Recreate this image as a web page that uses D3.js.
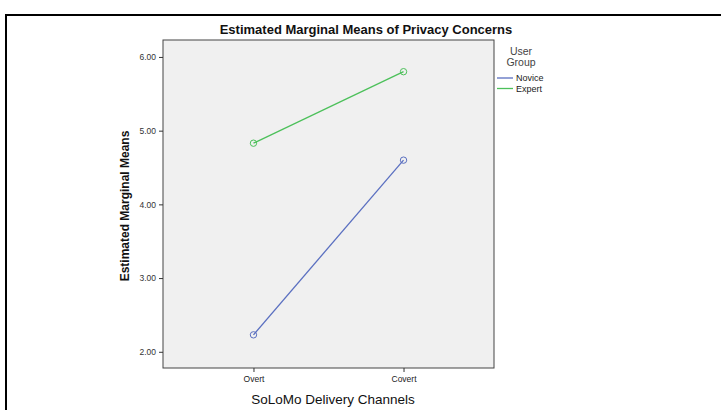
<!DOCTYPE html>
<html>
<head>
<meta charset="utf-8">
<script src="https://cdn.jsdelivr.net/npm/d3@7"></script>
<style>
  body { margin: 0; background: #fff; }
  svg { display: block; font-family: Arial, "Liberation Sans", sans-serif; }
</style>
</head>
<body>
<svg id="chart" width="721" height="410"></svg>
<script>
const channels = ['Overt', 'Covert'];
const groups = ['Novice', 'Expert'];
const noviceMeans = [2.23, 4.60];
const expertMeans = [4.83, 5.80];
const yTicks = [2, 3, 4, 5, 6];

const colors = { Novice: '#5a6fc0', Expert: '#4cc05a' };
const seriesData = [
  { name: 'Novice', values: noviceMeans },
  { name: 'Expert', values: expertMeans },
];

const width = 721;
const height = 410;
const margin = { top: 40, right: 227, bottom: 42, left: 163 };

const svg = d3.select('#chart');

// outer frame (left and top only)
svg.append('line')
  .attr('x1', 6).attr('x2', width).attr('y1', 15).attr('y2', 15)
  .attr('stroke', '#000').attr('stroke-width', 2);
svg.append('line')
  .attr('x1', 6).attr('x2', 6).attr('y1', 14).attr('y2', height)
  .attr('stroke', '#000').attr('stroke-width', 2);

const x = d3.scalePoint()
  .domain(channels)
  .range([margin.left, width - margin.right])
  .padding(0.603);

const y = d3.scaleLinear()
  .domain([1.78, 6.23])
  .range([height - margin.bottom, margin.top]);

// plot background
svg.append('rect')
  .attr('x', margin.left)
  .attr('y', margin.top)
  .attr('width', width - margin.left - margin.right)
  .attr('height', height - margin.top - margin.bottom)
  .attr('fill', '#f0f0f0')
  .attr('stroke', '#444')
  .attr('stroke-width', 1);

const yAxis = (g) => {
  g.attr('transform', `translate(${margin.left},0)`)
    .call(d3.axisLeft(y).tickValues(yTicks).tickFormat(d3.format('.2f')).tickSize(4).tickSizeOuter(0))
    .call((g) => g.select('.domain').remove())
    .call((g) => g.selectAll('.tick line').attr('stroke', '#333'))
    .call((g) => g.selectAll('.tick text')
      .attr('font-size', 8.5)
      .attr('fill', '#333')
      .attr('font-family', 'Arial, "Liberation Sans", sans-serif'));
};

const xAxis = (g) => {
  g.attr('transform', `translate(0,${height - margin.bottom})`)
    .call(d3.axisBottom(x).tickSize(4).tickSizeOuter(0))
    .call((g) => g.select('.domain').remove())
    .call((g) => g.selectAll('.tick line').attr('stroke', '#333'))
    .call((g) => g.selectAll('.tick text')
      .attr('font-size', 8.5)
      .attr('fill', '#222')
      .attr('dy', '0.85em')
      .attr('font-family', 'Arial, "Liberation Sans", sans-serif'));
};

svg.append('g').call(yAxis);
svg.append('g').call(xAxis);

const line = d3.line()
  .x((d, i) => x(channels[i]))
  .y((d) => y(d));

seriesData.forEach((s) => {
  svg.append('path')
    .datum(s.values)
    .attr('fill', 'none')
    .attr('stroke', colors[s.name])
    .attr('stroke-width', 1.3)
    .attr('d', line);
  svg.selectAll(null)
    .data(s.values)
    .join('circle')
    .attr('cx', (d, i) => x(channels[i]))
    .attr('cy', (d) => y(d))
    .attr('r', 3.2)
    .attr('fill', 'none')
    .attr('stroke', colors[s.name])
    .attr('stroke-width', 1);
});

// title
svg.append('text')
  .attr('x', 366)
  .attr('y', 34)
  .attr('text-anchor', 'middle')
  .attr('font-size', 13)
  .attr('font-weight', 'bold')
  .attr('fill', '#111')
  .text('Estimated Marginal Means of Privacy Concerns');

// axis titles
svg.append('text')
  .attr('transform', `translate(129,${(margin.top + height - margin.bottom) / 2 + 2}) rotate(-90)`)
  .attr('text-anchor', 'middle')
  .attr('font-size', 12)
  .attr('font-weight', 'bold')
  .attr('fill', '#111')
  .text('Estimated Marginal Means');

svg.append('text')
  .attr('x', 333)
  .attr('y', 404)
  .attr('text-anchor', 'middle')
  .attr('font-size', 13.5)
  .attr('fill', '#111')
  .text('SoLoMo Delivery Channels');

// legend
const legend = svg.append('g');
legend.append('text')
  .attr('x', 521).attr('y', 55)
  .attr('text-anchor', 'middle')
  .attr('font-size', 10.5)
  .attr('fill', '#444')
  .text('User');
legend.append('text')
  .attr('x', 521).attr('y', 66)
  .attr('text-anchor', 'middle')
  .attr('font-size', 10.5)
  .attr('fill', '#444')
  .text('Group');

groups.forEach((g, i) => {
  const ly = 78 + i * 10.5;
  legend.append('line')
    .attr('x1', 497).attr('x2', 513)
    .attr('y1', ly).attr('y2', ly)
    .attr('stroke', colors[g])
    .attr('stroke-width', 1.3);
  legend.append('text')
    .attr('x', 516).attr('y', ly + 3)
    .attr('font-size', 9)
    .attr('fill', '#222')
    .text(g);
});
</script>
</body>
</html>
